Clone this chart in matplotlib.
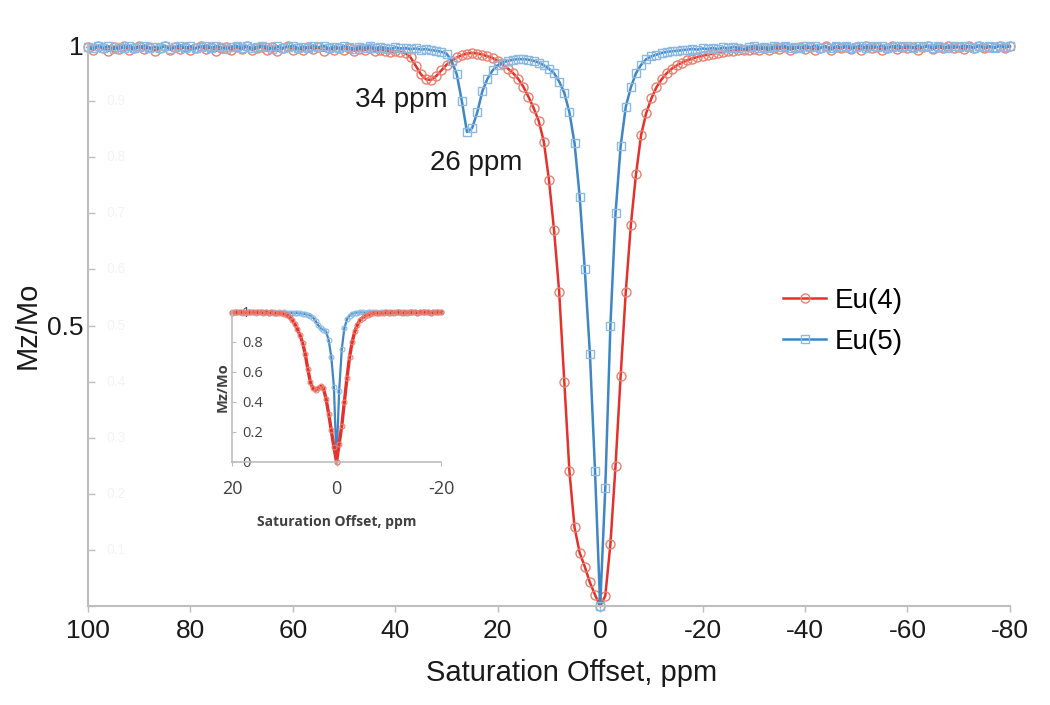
import numpy as np
import matplotlib
matplotlib.use("Agg")
import matplotlib.pyplot as plt
from matplotlib.ticker import MultipleLocator

plt.rcParams['font.family'] = ['Liberation Sans', 'DejaVu Sans']
plt.rcParams['axes.unicode_minus'] = False

# ---------------- data ----------------
offset_ppm = np.arange(100, -81, -1)

# Eu(4), 100 ... -80 ppm
eu4 = [
    0.996, 0.992, 0.998, 0.994, 0.990, 0.997, 0.993, 0.999, 0.991, 0.995,
    0.998, 0.993, 0.996, 0.990, 0.994, 0.999, 0.992, 0.996, 0.993, 0.997,
    0.991, 0.995, 0.998, 0.993, 0.996, 0.990, 0.994, 0.997, 0.992, 0.996,
    0.993, 0.998, 0.991, 0.995, 0.997, 0.992, 0.996, 0.990, 0.994, 0.998,
    0.992, 0.995, 0.991, 0.997, 0.993, 0.996, 0.990, 0.994, 0.992, 0.995,
    0.991, 0.994, 0.990, 0.993, 0.991, 0.995, 0.989, 0.992, 0.990, 0.988,
    0.989, 0.988, 0.986, 0.978, 0.963, 0.948, 0.939, 0.938, 0.945, 0.955,
    0.965, 0.972, 0.978, 0.982, 0.985, 0.986, 0.985, 0.983, 0.980, 0.977,
    0.972, 0.966, 0.958, 0.950, 0.940, 0.926, 0.908, 0.888, 0.865, 0.828,
    0.760, 0.670, 0.560, 0.400, 0.240, 0.140, 0.095, 0.070, 0.042, 0.020,
    0.000, 0.018, 0.110, 0.250, 0.410, 0.560, 0.680, 0.770, 0.840, 0.879,
    0.905, 0.925, 0.939, 0.950, 0.958, 0.964, 0.969, 0.973, 0.976, 0.979,
    0.981, 0.983, 0.985, 0.986, 0.988, 0.989, 0.990, 0.991, 0.992, 0.991,
    0.993, 0.992, 0.994, 0.991, 0.995, 0.993, 0.996, 0.992, 0.994, 0.997,
    0.993, 0.996, 0.991, 0.995, 0.998, 0.992, 0.996, 0.994, 0.997, 0.993,
    0.996, 0.992, 0.998, 0.994, 0.997, 0.991, 0.995, 0.998, 0.993, 0.996,
    0.994, 0.997, 0.992, 0.996, 0.999, 0.993, 0.997, 0.994, 0.998, 0.995,
    0.997, 0.993, 0.998, 0.995, 0.999, 0.994, 0.997, 0.996, 0.999, 0.995,
    0.998,
]

# Eu(5), 100 ... -80 ppm
eu5 = [
    0.997, 0.994, 0.999, 0.995, 0.998, 0.993, 0.997, 0.995, 0.999, 0.994,
    0.996, 0.999, 0.994, 0.997, 0.995, 0.998, 0.993, 0.997, 0.999, 0.995,
    0.998, 0.994, 0.997, 0.999, 0.995, 0.998, 0.996, 0.993, 0.997, 0.999,
    0.995, 0.998, 0.994, 0.997, 0.999, 0.996, 0.993, 0.998, 0.995, 0.997,
    0.999, 0.994, 0.997, 0.995, 0.998, 0.996, 0.999, 0.994, 0.997, 0.995,
    0.998, 0.996, 0.993, 0.997, 0.995, 0.998, 0.994, 0.996, 0.995, 0.993,
    0.996, 0.994, 0.995, 0.993, 0.994, 0.992, 0.993, 0.991, 0.990, 0.988,
    0.985, 0.972, 0.948, 0.900, 0.845, 0.852, 0.880, 0.918, 0.940, 0.955,
    0.964, 0.969, 0.972, 0.974, 0.975, 0.975, 0.974, 0.972, 0.969, 0.964,
    0.958, 0.950, 0.935, 0.915, 0.880, 0.825, 0.730, 0.600, 0.450, 0.240,
    0.000, 0.210, 0.500, 0.700, 0.820, 0.890, 0.925, 0.950, 0.965, 0.975,
    0.980, 0.983, 0.986, 0.988, 0.989, 0.990, 0.991, 0.992, 0.993, 0.992,
    0.994, 0.993, 0.995, 0.993, 0.996, 0.994, 0.997, 0.995, 0.993, 0.996,
    0.998, 0.995, 0.997, 0.994, 0.998, 0.996, 0.999, 0.995, 0.997, 0.994,
    0.998, 0.996, 0.999, 0.995, 0.997, 0.994, 0.998, 0.996, 0.999, 0.995,
    0.997, 0.999, 0.994, 0.998, 0.996, 0.999, 0.995, 0.997, 0.999, 0.996,
    0.998, 0.995, 0.999, 0.996, 0.998, 0.995, 0.999, 0.997, 0.995, 0.998,
    0.996, 0.999, 0.997, 0.995, 0.999, 0.996, 0.998, 0.995, 0.999, 0.997,
    0.998,
]

# inset: 20 ... -20 ppm in 0.5 ppm steps
inset_ppm = np.arange(20, -20.5, -0.5)
inset_eu4 = [
    0.995, 0.998, 0.996, 0.999, 0.997, 0.995, 0.998, 0.996, 0.999, 0.997,
    0.996, 0.998, 0.995, 0.997, 0.994, 0.996, 0.993, 0.994, 0.991, 0.990,
    0.985, 0.978, 0.966, 0.948, 0.920, 0.885, 0.845, 0.795, 0.720, 0.620,
    0.530, 0.490, 0.478, 0.490, 0.505, 0.490, 0.420, 0.320, 0.210, 0.100,
    0.000, 0.120, 0.240, 0.400, 0.560, 0.700, 0.800, 0.870, 0.915, 0.945,
    0.962, 0.973, 0.981, 0.986, 0.990, 0.992, 0.994, 0.993, 0.995, 0.996,
    0.994, 0.997, 0.995, 0.998, 0.996, 0.994, 0.997, 0.995, 0.998, 0.996,
    0.997, 0.995, 0.998, 0.996, 0.999, 0.997, 0.995, 0.998, 0.996, 0.999,
    0.997,
]
inset_eu5 = [
    0.998, 0.996, 0.999, 0.997, 0.995, 0.998, 0.996, 0.999, 0.997, 0.995,
    0.998, 0.996, 0.999, 0.997, 0.995, 0.998, 0.996, 0.994, 0.997, 0.995,
    0.996, 0.994, 0.995, 0.993, 0.994, 0.992, 0.990, 0.988, 0.985, 0.980,
    0.975, 0.962, 0.940, 0.910, 0.890, 0.880, 0.870, 0.810, 0.700, 0.500,
    0.000, 0.470, 0.750, 0.890, 0.950, 0.975, 0.988, 0.993, 0.995, 0.996,
    0.997, 0.995, 0.998, 0.996, 0.999, 0.997, 0.995, 0.998, 0.996, 0.999,
    0.997, 0.995, 0.998, 0.996, 0.999, 0.997, 0.995, 0.998, 0.996, 0.999,
    0.997, 0.995, 0.998, 0.996, 0.999, 0.997, 0.995, 0.998, 0.996, 0.999,
    0.997,
]

peak_labels = ["34 ppm", "26 ppm"]
peak_pos = [(38.9, 0.902), (24.3, 0.79)]

red_line, red_mark = '#e4312b', '#e9806f'
blue_line, blue_mark = '#3f86c4', '#8ab9e3'
spine_col = '#bdbdbd'

# ---------------- main plot ----------------
fig = plt.figure(figsize=(10.5, 7.05), dpi=100)
ax = fig.add_axes([0.0838, 0.1404, 0.878, 0.7956])

ax.plot(offset_ppm, eu4, color=red_line, lw=1.8, marker='o', ms=6.5,
        mfc='none', mec=red_mark, mew=1.0, label='Eu(4)', clip_on=False)
ax.plot(offset_ppm, eu5, color=blue_line, lw=1.8, marker='s', ms=6.0,
        mfc='none', mec=blue_mark, mew=1.0, label='Eu(5)', clip_on=False)

ax.set_xlim(100, -80)
ax.set_ylim(0, 1)
ax.xaxis.set_major_locator(MultipleLocator(20))
ax.set_yticks([0.5, 1])
ax.set_yticklabels(['0.5', '1'])
ax.yaxis.set_minor_locator(MultipleLocator(0.1))
ax.tick_params(axis='x', direction='out', length=4, width=1, color=spine_col,
               labelsize=19, pad=5, labelcolor='#1a1a1a')
ax.tick_params(axis='y', which='both', direction='in', length=5, width=1,
               color=spine_col, labelsize=19, pad=3, labelcolor='#1a1a1a')
for s in ['top', 'right']:
    ax.spines[s].set_visible(False)
for s in ['left', 'bottom']:
    ax.spines[s].set_color(spine_col)
    ax.spines[s].set_linewidth(1.5)

# faint ghost labels inside the axis
for v in [0.9, 0.8, 0.7, 0.6, 0.5, 0.4, 0.3, 0.2, 0.1]:
    ax.text(0.02, v, f"{v:.1f}", transform=ax.get_yaxis_transform(),
            fontsize=10, color='#f3f3f3', va='center', ha='left')

ax.set_xlabel('Saturation Offset, ppm', fontsize=21, color='#1a1a1a')
ax.xaxis.set_label_coords(0.525, -0.095)
ax.set_ylabel('Mz/Mo', fontsize=21, labelpad=4, color='#1a1a1a')

for lbl, (px, py) in zip(peak_labels, peak_pos):
    ax.text(px, py, lbl, fontsize=20, ha='center', va='center', color='#1a1a1a')

ax.legend(loc='upper left', bbox_to_anchor=(0.727, 0.612), frameon=False,
          fontsize=20, handlelength=1.55, handletextpad=0.3, labelspacing=0.55)

# ---------------- inset ----------------
ins = fig.add_axes([0.221, 0.3447, 0.199, 0.213])
ins.set_facecolor('none')
ins.plot(inset_ppm, inset_eu5, color=blue_line, lw=1.6, marker='o', ms=3.5,
         mfc='none', mec=blue_mark, mew=0.8, clip_on=False)
ins.plot(inset_ppm, inset_eu4, color=red_line, lw=2.4, marker='o', ms=3.5,
         mfc='none', mec=red_mark, mew=0.8, clip_on=False)
ins.set_xlim(20, -20)
ins.set_ylim(0, 1)
ins.set_xticks([20, 0, -20])
ins.set_yticks([0, 0.2, 0.4, 0.6, 0.8, 1])
ins.set_yticklabels(['0', '0.2', '0.4', '0.6', '0.8', '1'])
ins.tick_params(axis='x', direction='out', length=3, color=spine_col,
                labelsize=13, pad=10, labelcolor='#404040')
ins.tick_params(axis='y', direction='in', length=3, color=spine_col,
                labelsize=10.5, pad=-7, labelcolor='#404040')
for lbl in ins.get_yticklabels():
    lbl.set_horizontalalignment('left')
    lbl.set_fontfamily(['Open Sans', 'DejaVu Sans'])
for lbl in ins.get_xticklabels():
    lbl.set_fontfamily(['Open Sans', 'DejaVu Sans'])
for s in ['top', 'right']:
    ins.spines[s].set_visible(False)
for s in ['left', 'bottom']:
    ins.spines[s].set_color(spine_col)
    ins.spines[s].set_linewidth(1.2)
ins.set_xlabel('Saturation Offset, ppm', fontsize=10, fontweight='bold',
               family=['Open Sans', 'DejaVu Sans'], color='#404040', labelpad=12)
ins.set_ylabel('Mz/Mo', fontsize=10.5, fontweight='bold',
               family=['Open Sans', 'DejaVu Sans'], color='#404040', labelpad=2)

fig.savefig('out.png', dpi=100, facecolor='white')
